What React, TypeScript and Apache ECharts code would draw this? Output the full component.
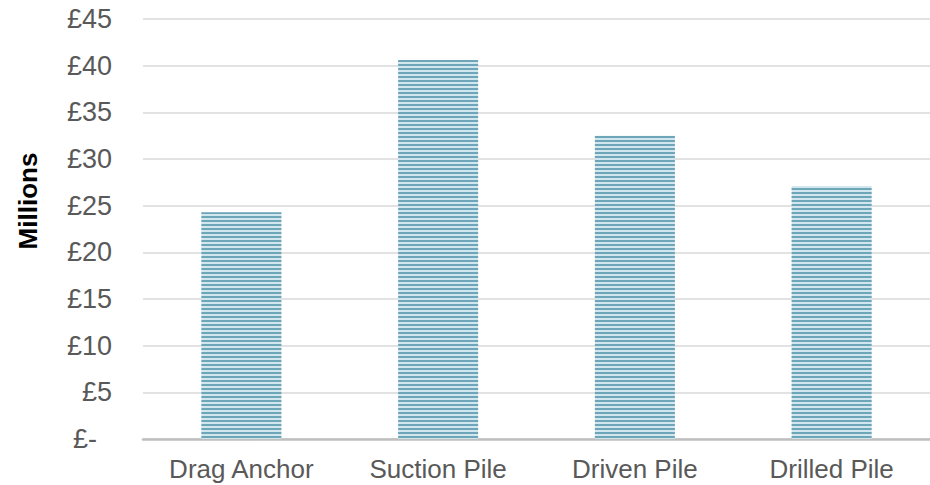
import React, { useEffect, useRef } from "react";
import * as echarts from "echarts";

const categories = ["Drag Anchor", "Suction Pile", "Driven Pile", "Drilled Pile"];
const costMillions = [24.3, 40.6, 32.5, 27.1];
const yTicks = [0, 5, 10, 15, 20, 25, 30, 35, 40, 45];
const yTitle = "Millions";

const FONT = "Liberation Sans, Arial, sans-serif";

export default function App() {
  const ref = useRef<HTMLDivElement>(null);

  useEffect(() => {
    document.body.style.margin = "0";
    const chart = echarts.init(ref.current!, undefined, { renderer: "svg" });
    chart.setOption({
      animation: false,
      grid: { left: 143, right: 0, top: 19, bottom: 46 },
      graphic: [
        {
          type: "text",
          x: 28,
          y: 201,
          rotation: Math.PI / 2,
          style: {
            text: yTitle,
            fill: "#000000",
            font: `bold 26px ${FONT}`,
            textAlign: "center",
            textVerticalAlign: "middle",
          },
        },
      ],
      xAxis: {
        type: "category",
        data: categories,
        axisTick: { show: false },
        axisLine: { lineStyle: { color: "#bfbfbf", width: 2.5 } },
        axisLabel: {
          color: "#595959",
          fontFamily: FONT,
          fontSize: 26,
          margin: 17,
        },
      },
      yAxis: {
        type: "value",
        min: yTicks[0],
        max: yTicks[yTicks.length - 1],
        interval: 5,
        axisLine: { show: false },
        axisTick: { show: false },
        splitLine: { lineStyle: { color: "#d9d9d9", width: 1.5 } },
        axisLabel: {
          margin: 31,
          formatter: (v: number) => (v === 0 ? "{z|£-}" : "£" + v),
          color: "#595959",
          fontFamily: FONT,
          fontSize: 27,
          rich: {
            z: {
              color: "#595959",
              fontFamily: FONT,
              fontSize: 27,
              padding: [0, 15, 0, 0],
            },
          },
        },
      },
      series: [
        {
          type: "bar",
          data: costMillions,
          barWidth: 80,
          itemStyle: {
            color: "#d2e6ed",
            decal: {
              symbol: "rect",
              symbolSize: 1,
              color: "#6ea6b9",
              dashArrayX: [1, 0],
              dashArrayY: [2, 2],
              rotation: 0,
            },
          },
        },
      ],
    });
    return () => chart.dispose();
  }, []);

  return <div ref={ref} style={{ width: 930, height: 485 }} />;
}
